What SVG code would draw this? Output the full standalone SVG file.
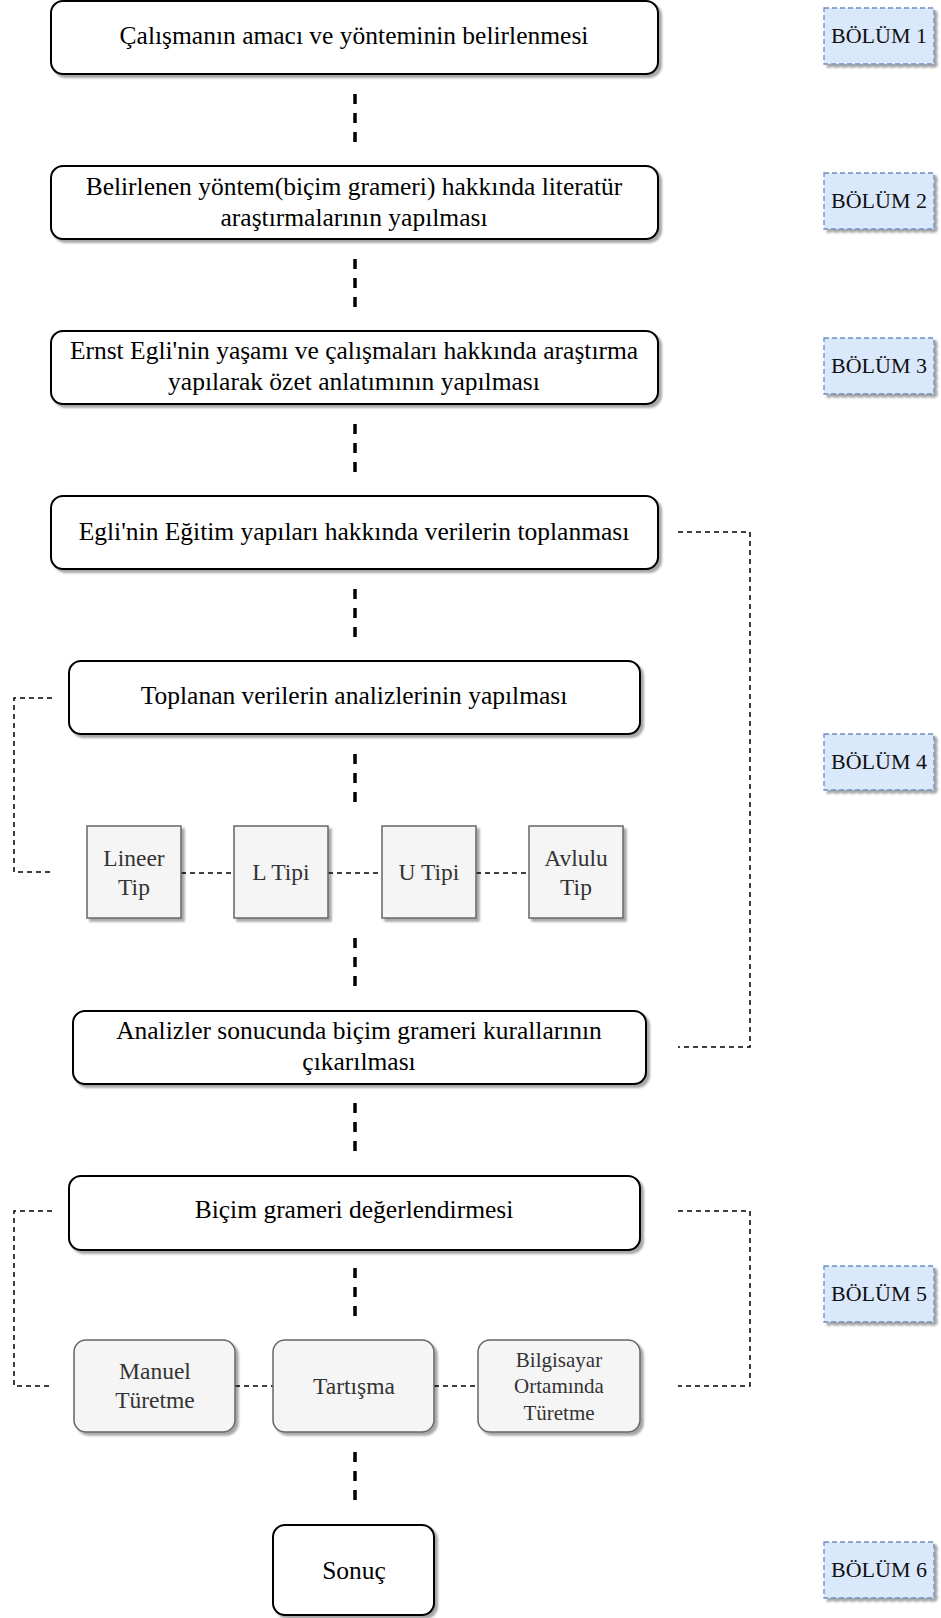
<svg xmlns="http://www.w3.org/2000/svg" width="941" height="1618" viewBox="0 0 941 1618">
  <defs>
    <filter id="shadow" x="-10%" y="-10%" width="130%" height="140%">
      <feGaussianBlur in="SourceAlpha" stdDeviation="1"/>
      <feOffset dx="3" dy="3" result="off"/>
      <feComponentTransfer><feFuncA type="linear" slope="0.35"/></feComponentTransfer>
      <feMerge><feMergeNode/><feMergeNode in="SourceGraphic"/></feMerge>
    </filter>
    <style>
      .step rect { fill: #ffffff; stroke: #000000; stroke-width: 2; filter: url(#shadow); }
      .sub rect { fill: #f5f5f5; stroke: #666666; stroke-width: 1.5; filter: url(#shadow); }
      .sec rect { fill: #dae8fc; stroke: #6c8ebf; stroke-width: 1.3; stroke-dasharray: 5 3; filter: url(#shadow); }
      text { font-family: "Liberation Serif", "Times New Roman", serif; text-anchor: middle; dominant-baseline: central; }
      .step text { font-size: 25.5px; fill: #000000; }
      .sub text { font-size: 23.5px; fill: #333333; }
      .sub text.small { font-size: 21px; }
      .sec text { font-size: 22px; fill: #111111; }
      .flow { stroke: #000000; stroke-width: 3.5; stroke-dasharray: 10 9; fill: none; }
      .link { stroke: #000000; stroke-width: 1.5; stroke-dasharray: 5 4; fill: none; }
    </style>
  </defs>

  <!-- main flow connectors and side brackets -->
  <g id="connectors">
    <line class="flow" x1="355" y1="94" x2="355" y2="145"/>
    <line class="flow" x1="355" y1="259" x2="355" y2="310"/>
    <line class="flow" x1="355" y1="424" x2="355" y2="475"/>
    <line class="flow" x1="355" y1="589" x2="355" y2="640"/>
    <line class="flow" x1="355" y1="754" x2="355" y2="805"/>
    <line class="flow" x1="355" y1="938" x2="355" y2="989"/>
    <line class="flow" x1="355" y1="1103" x2="355" y2="1154"/>
    <line class="flow" x1="355" y1="1268" x2="355" y2="1319"/>
    <line class="flow" x1="355" y1="1452" x2="355" y2="1503"/>

    <line class="link" x1="181" y1="873" x2="234" y2="873"/>
    <line class="link" x1="328" y1="873" x2="382" y2="873"/>
    <line class="link" x1="476" y1="873" x2="529" y2="873"/>

    <line class="link" x1="235" y1="1386" x2="273" y2="1386"/>
    <line class="link" x1="434" y1="1386" x2="478" y2="1386"/>

    <path class="link" d="M52,698 H14 V872 H52"/>
    <path class="link" d="M678,532 H750 V1047 H678"/>
    <path class="link" d="M52,1211 H14 V1386 H52"/>
    <path class="link" d="M678,1211 H750 V1386 H678"/>
  </g>

  <g id="step1" class="step">
    <rect x="51" y="1" width="607" height="73" rx="12"/>
    <text x="354" y="35">Çalışmanın amacı ve yönteminin belirlenmesi</text>
  </g>
  <g id="step2" class="step">
    <rect x="51" y="166" width="607" height="73" rx="12"/>
    <text x="354" y="186">Belirlenen yöntem(biçim grameri) hakkında literatür</text>
    <text x="354" y="217">araştırmalarının yapılması</text>
  </g>
  <g id="step3" class="step">
    <rect x="51" y="331" width="607" height="73" rx="12"/>
    <text x="354" y="350">Ernst Egli'nin yaşamı ve çalışmaları hakkında araştırma</text>
    <text x="354" y="381">yapılarak özet anlatımının yapılması</text>
  </g>
  <g id="step4" class="step">
    <rect x="51" y="496" width="607" height="73" rx="12"/>
    <text x="354" y="531">Egli'nin Eğitim yapıları hakkında verilerin toplanması</text>
  </g>
  <g id="step5" class="step">
    <rect x="69" y="661" width="571" height="73" rx="12"/>
    <text x="354" y="695">Toplanan verilerin analizlerinin yapılması</text>
  </g>

  <g id="type-lineer" class="sub">
    <rect x="87" y="826" width="94" height="92"/>
    <text x="134" y="858">Lineer</text>
    <text x="134" y="887">Tip</text>
  </g>
  <g id="type-l" class="sub">
    <rect x="234" y="826" width="94" height="92"/>
    <text x="281" y="872">L Tipi</text>
  </g>
  <g id="type-u" class="sub">
    <rect x="382" y="826" width="94" height="92"/>
    <text x="429" y="872">U Tipi</text>
  </g>
  <g id="type-avlulu" class="sub">
    <rect x="529" y="826" width="94" height="92"/>
    <text x="576" y="858">Avlulu</text>
    <text x="576" y="887">Tip</text>
  </g>

  <g id="step6" class="step">
    <rect x="73" y="1011" width="573" height="73" rx="12"/>
    <text x="359" y="1030">Analizler sonucunda biçim grameri kurallarının</text>
    <text x="359" y="1061">çıkarılması</text>
  </g>
  <g id="step7" class="step">
    <rect x="69" y="1176" width="571" height="74" rx="12"/>
    <text x="354" y="1209">Biçim grameri değerlendirmesi</text>
  </g>

  <g id="eval-manuel" class="sub">
    <rect x="74" y="1340" width="161" height="92" rx="12"/>
    <text x="155" y="1371">Manuel</text>
    <text x="155" y="1400">Türetme</text>
  </g>
  <g id="eval-tartisma" class="sub">
    <rect x="273" y="1340" width="161" height="92" rx="12"/>
    <text x="354" y="1386">Tartışma</text>
  </g>
  <g id="eval-bilgisayar" class="sub">
    <rect x="478" y="1340" width="162" height="92" rx="12"/>
    <text class="small" x="559" y="1360">Bilgisayar</text>
    <text class="small" x="559" y="1386">Ortamında</text>
    <text class="small" x="559" y="1413">Türetme</text>
  </g>

  <g id="result" class="step">
    <rect x="273" y="1525" width="161" height="90" rx="12"/>
    <text x="354" y="1570">Sonuç</text>
  </g>

  <g id="section1" class="sec">
    <rect x="824" y="8" width="110" height="56"/>
    <text x="879" y="35">BÖLÜM 1</text>
  </g>
  <g id="section2" class="sec">
    <rect x="824" y="173" width="110" height="56"/>
    <text x="879" y="200">BÖLÜM 2</text>
  </g>
  <g id="section3" class="sec">
    <rect x="824" y="338" width="110" height="56"/>
    <text x="879" y="365">BÖLÜM 3</text>
  </g>
  <g id="section4" class="sec">
    <rect x="824" y="734" width="110" height="56"/>
    <text x="879" y="761">BÖLÜM 4</text>
  </g>
  <g id="section5" class="sec">
    <rect x="824" y="1266" width="110" height="56"/>
    <text x="879" y="1293">BÖLÜM 5</text>
  </g>
  <g id="section6" class="sec">
    <rect x="824" y="1542" width="110" height="56"/>
    <text x="879" y="1569">BÖLÜM 6</text>
  </g>
</svg>
